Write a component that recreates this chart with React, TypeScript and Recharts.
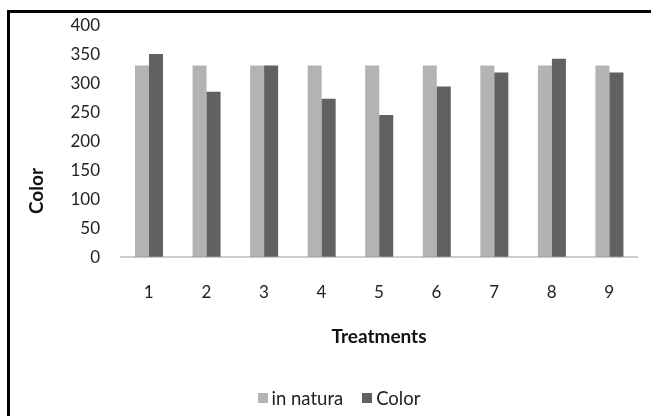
import React from "react";
import { BarChart, Bar, XAxis, YAxis, Legend } from "recharts";

const treatments = ["1", "2", "3", "4", "5", "6", "7", "8", "9"];
const inNatura = [330, 330, 330, 330, 330, 330, 330, 330, 330];
const colorValues = [350, 285, 330, 273, 245, 294, 318, 342, 318];
const yTicks = [0, 50, 100, 150, 200, 250, 300, 350, 400];

const data = treatments.map((t, i) => ({
  treatment: t,
  inNatura: inNatura[i],
  color: colorValues[i],
}));

const LIGHT = "#b3b3b3";
const DARK = "#616161";
const FONT = "Lato, 'Open Sans', sans-serif";

const LegendContent = () => (
  <div
    style={{
      display: "flex",
      justifyContent: "center",
      alignItems: "center",
      height: 36,
      fontFamily: FONT,
      fontSize: 18.5,
      color: "#222",
      paddingLeft: 40,
    }}
  >
    <span style={{ display: "inline-block", width: 10, height: 10, background: LIGHT, marginRight: 4 }} />
    <span style={{ marginRight: 19 }}>in natura</span>
    <span style={{ display: "inline-block", width: 10, height: 10, background: DARK, marginRight: 4 }} />
    <span>Color</span>
  </div>
);

const YLabel = (props: any) => {
  const { viewBox } = props;
  const x = viewBox.x + 35;
  const y = viewBox.y + viewBox.height / 2 + 50;
  return (
    <text
      x={x}
      y={y}
      transform={`rotate(-90, ${x}, ${y})`}
      textAnchor="middle"
      dominantBaseline="central"
      fontFamily={FONT}
      fontWeight="bold"
      fontSize={19}
      fill="#111"
    >
      Color
    </text>
  );
};

export default function App() {
  return (
    <>
      {/* frame: only top and left edges fall inside the page */}
      <div
        style={{
          position: "fixed",
          left: 7,
          top: 10,
          width: 700,
          height: 500,
          borderTop: "3px solid #000",
          borderLeft: "3px solid #000",
        }}
      />
      <div style={{ position: "fixed", left: 0, top: 0, width: 651, height: 416 }}>
        <BarChart
          width={651}
          height={416}
          data={data}
          margin={{ top: 25, right: 13, left: 0, bottom: 0 }}
          barGap={0}
          barSize={14}
        >
          <XAxis
            dataKey="treatment"
            height={123}
            tickLine={false}
            tickSize={0}
            tickMargin={29}
            axisLine={{ stroke: "#9a9a9a" }}
            tick={{ fill: "#222", fontSize: 17, fontFamily: FONT }}
            label={{
              value: "Treatments",
              position: "insideBottom",
              offset: 37,
              style: { fontFamily: FONT, fontWeight: "bold", fontSize: 19, fill: "#111" },
            }}
          />
          <YAxis
            width={120}
            domain={[0, 400]}
            ticks={yTicks}
            axisLine={false}
            tickLine={false}
            tickSize={0}
            tickMargin={20}
            tick={{ fill: "#222", fontSize: 17, fontFamily: FONT }}
            label={<YLabel />}
          />
          <Legend verticalAlign="bottom" height={36} content={<LegendContent />} />
          <Bar dataKey="inNatura" name="in natura" fill={LIGHT} isAnimationActive={false} />
          <Bar dataKey="color" name="Color" fill={DARK} isAnimationActive={false} />
        </BarChart>
      </div>
    </>
  );
}
